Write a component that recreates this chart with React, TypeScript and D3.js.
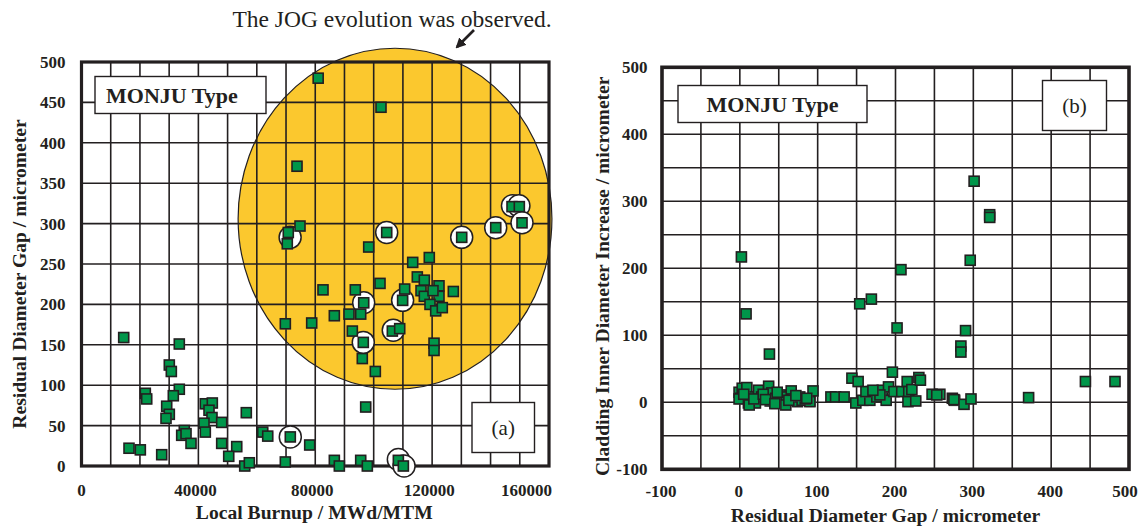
import React from 'react';
import * as d3 from 'd3';

// ---------- Panel (a): residual diameter gap vs. local burnup ----------
const burnupTicks = [0, 40000, 80000, 120000, 160000];
const burnupGrid = d3.range(0, 160001, 10000);
const gapTicksA = [0, 50, 100, 150, 200, 250, 300, 350, 400, 450, 500];

const localBurnup = [
  73760, 70770, 74780, 70430, 104450, 98290, 113350, 119030, 114930, 117330,
  102160, 82650, 93710, 96580, 110600, 109900, 116200, 117330, 122350, 122350,
  120300, 119270, 121220, 123480, 127250, 69760, 78780, 86530, 91550, 95550,
  92690, 106380, 108900, 96440, 120650, 120650, 96100, 100560, 147340, 149840,
  150760, 141760, 130120, 81000, 102500,
  14440, 33470, 30050, 30740, 21840, 22310, 33470, 31420, 29150, 30050,
  28920, 42370, 44770, 43640, 44660, 47980, 41930, 42370, 56400, 35180,
  34290, 35770, 37480, 16260, 20130, 27450, 47980, 53120, 50380, 55860,
  57440, 62020, 63730, 71460, 69760, 78100, 97260, 86530, 88240, 95550,
  97820, 108440, 110150,
];
const residualGap = [
  371, 289, 297, 275, 289, 271, 252, 258, 234, 230,
  226, 218, 218, 202, 219, 205, 217, 210, 223, 210,
  217, 200, 192, 196, 216, 176, 177, 186, 188, 188,
  167, 167, 170, 153, 152, 143, 133, 117, 321, 321,
  301, 295, 283, 480, 444,
  159, 151, 125, 117, 90, 83, 95, 87, 74, 64,
  59, 77, 78, 69, 60, 54, 53, 42, 66, 44,
  38, 40, 28, 22, 20, 14, 28, 24, 12, 0,
  4, 42, 37, 36, 5, 26, 73, 7, 0, 7,
  0, 7, 0,
];
// Specimens where joint-oxide-gap evolution was observed (ringed)
const ringBurnup = [71400, 104450, 96580, 109900, 106700, 96440, 147500, 149700, 150760, 141760, 130120, 71460, 108440, 110400];
const ringGap = [283, 289, 202, 205, 168, 153, 322, 322, 301, 295, 283, 36, 8, 0];

// JOG region outline (data units)
const jogCenterBurnup = 107300;
const jogCenterGap = 306;
const jogHalfWidthBurnup = 53700;
const jogHalfHeightGap = 211;

// ---------- Panel (b): cladding inner diameter increase vs. residual gap ----------
const gapTicksB = [-100, 0, 100, 200, 300, 400, 500];
const gapGridB = d3.range(-100, 501, 50);
const residualGapB = [
  2, 8, 38, 154, 169, 207, 202, 301, 321, 321, 296, 290, 284, 284, 196, 371, 444, 482,
  -1, 3, 9, 1, 12, 15, 20, 24, 28, 37, 41, 39, 46, 52, 55, 60, 66, 68, 74, 77, 80, 90,
  94, 117, 123, 134, -1, 11, 12, 59, 90, 5, 18, 30, 48, 63, 84, 72, 33, 45, 86,
  144, 152, 149, 158, 167, 169, 176, 188, 183, 191, 198, 208, 215, 217, 221, 216, 226,
  230, 232, 247, 257, 273, 276, 288, 297, 180, 162, 171, 253, 275,
];
const diameterIncrease = [
  217, 132, 72, 147, 154, 198, 111, 330, 280, 276, 212, 107, 84, 75, 45, 7, 31, 31,
  15, 21, 22, 6, 8, 1, -1, 18, 8, 24, 14, 2, 6, 11, 1, 8, 17, 5, 1, 8, 3, 2,
  17, 8, 8, 8, 5, -1, -4, -4, 1, 12, 5, 12, 15, 3, 5, 10, 4, -2, 6,
  36, 31, -1, 3, 3, 16, 8, 3, 18, 23, 16, 16, 31, 16, 19, 1, 2,
  37, 33, 12, 12, 6, 3, -3, 5, 11, 16, 18, 11, 4,
];

const W = 1147;
const H = 527;
const INK = '#231f20';
const GREEN = '#00964a';
const GOLD = '#fbc82e';
const SERIF = '"Liberation Serif", "Times New Roman", serif';

const xA = d3.scaleLinear().domain([0, 160000]).range([81.5, 549]);
const yA = d3.scaleLinear().domain([0, 500]).range([466, 62]);
const xB = d3.scaleLinear().domain([-100, 500]).range([662, 1129]);
const yB = d3.scaleLinear().domain([-100, 500]).range([469.3, 67.3]);

const SQ = 10;

function Square({ x, y }: { x: number; y: number }) {
  return (
    <g>
      <rect x={x - SQ / 2 + 0.8} y={y - SQ / 2 + 0.8} width={SQ} height={SQ} fill="#9a9a9a" opacity={0.45} />
      <rect x={x - SQ / 2} y={y - SQ / 2} width={SQ} height={SQ} fill={GREEN} stroke={INK} strokeWidth={1.6} />
    </g>
  );
}

function LabelBox({ x, y, w, h, text, bold, size, anchor }: any) {
  return (
    <g>
      <rect x={x} y={y} width={w} height={h} fill="#fff" stroke={INK} strokeWidth={1.4} />
      <text
        x={anchor === 'middle' ? x + w / 2 : x + 11}
        y={y + h / 2}
        dy="0.35em"
        textAnchor={anchor}
        fontFamily={SERIF}
        fontWeight={bold ? 'bold' : 'normal'}
        fontSize={size}
        fill={INK}
      >
        {text}
      </text>
    </g>
  );
}

export default function App() {
  const [a0, a1] = xA.range();
  const [b0, b1] = xB.range();
  const topA = yA(500), botA = yA(0);
  const topB = yB(500), botB = yB(-100);

  const ex = xA(jogCenterBurnup);
  const ey = yA(jogCenterGap);
  const erx = xA(jogHalfWidthBurnup) - xA(0);
  const ery = yA(0) - yA(jogHalfHeightGap);

  return (
    <div style={{ position: 'absolute', left: 0, top: 0 }}>
      <svg width={W} height={H} style={{ display: 'block', background: '#fff' }}>
        {/* ===== Panel (a) ===== */}
        <rect x={a0} y={topA} width={a1 - a0} height={botA - topA} fill="#fff" />
        <ellipse cx={ex} cy={ey} rx={erx} ry={ery} fill={GOLD} stroke={INK} strokeWidth={1.2} />
        {burnupGrid.map((v) => (
          <line key={'ga' + v} x1={xA(v)} x2={xA(v)} y1={topA} y2={botA} stroke={INK} strokeWidth={1.6} />
        ))}
        {gapTicksA.map((v) => (
          <line key={'ha' + v} x1={a0} x2={a1} y1={yA(v)} y2={yA(v)} stroke={INK} strokeWidth={1.6} />
        ))}
        <rect x={a0} y={topA} width={a1 - a0} height={botA - topA} fill="none" stroke={INK} strokeWidth={3.2} />

        {gapTicksA.map((v) => (
          <text key={'ya' + v} x={a0 - 16} y={yA(v)} dy="0.35em" textAnchor="end" fontFamily={SERIF} fontWeight="bold" fontSize={17} fill={INK}>
            {v}
          </text>
        ))}
        {burnupTicks.map((v, i) => (
          <text
            key={'xa' + v}
            x={i === burnupTicks.length - 1 ? xA(v) + 3 : xA(v) - (i === 0 ? 0 : 3)}
            y={496}
            textAnchor={i === burnupTicks.length - 1 ? 'end' : 'middle'}
            fontFamily={SERIF}
            fontWeight="bold"
            fontSize={17}
            fill={INK}
          >
            {v}
          </text>
        ))}
        <text x={(a0 + a1) / 2 - 1} y={519} textAnchor="middle" fontFamily={SERIF} fontWeight="bold" fontSize={19.6} fill={INK}>
          Local Burnup / MWd/MTM
        </text>
        <text
          transform={`translate(26, ${(topA + botA) / 2 + 10}) rotate(-90)`}
          textAnchor="middle"
          fontFamily={SERIF}
          fontWeight="bold"
          fontSize={19.6}
          fill={INK}
        >
          Residual Diameter Gap / micrometer
        </text>

        <LabelBox x={95} y={76.5} w={171} h={37} text="MONJU Type" bold size={22} anchor="start" />
        <LabelBox x={472} y={402.5} w={62.5} h={50} text="(a)" size={21} anchor="middle" />

        {ringBurnup.map((v, i) => (
          <circle key={'r' + i} cx={xA(v)} cy={yA(ringGap[i])} r={11} fill="#fff" stroke={INK} strokeWidth={1.5} />
        ))}
        {localBurnup.map((v, i) => (
          <Square key={'pa' + i} x={xA(v)} y={yA(residualGap[i])} />
        ))}

        {/* annotation */}
        <text x={392} y={27} textAnchor="middle" fontFamily={SERIF} fontSize={23.5} fill={INK}>
          The JOG evolution was observed.
        </text>
        <defs>
          <marker id="ahead" viewBox="0 0 10 10" refX="8" refY="5" markerWidth="4" markerHeight="4" orient="auto">
            <path d="M0,0 L10,5 L0,10 z" fill={INK} />
          </marker>
        </defs>
        <line x1={474} y1={30} x2={457} y2={47} stroke={INK} strokeWidth={2.6} markerEnd="url(#ahead)" />

        {/* ===== Panel (b) ===== */}
        <rect x={b0} y={topB} width={b1 - b0} height={botB - topB} fill="#fff" />
        {gapGridB.map((v) => (
          <line key={'gb' + v} x1={xB(v)} x2={xB(v)} y1={topB} y2={botB} stroke={INK} strokeWidth={1.6} />
        ))}
        {gapGridB.map((v) => (
          <line key={'hb' + v} x1={b0} x2={b1} y1={yB(v)} y2={yB(v)} stroke={INK} strokeWidth={1.6} />
        ))}
        <rect x={b0} y={topB} width={b1 - b0} height={botB - topB} fill="none" stroke={INK} strokeWidth={3.6} />

        {gapTicksB.map((v) => (
          <text key={'yb' + v} x={b0 - 14.5} y={yB(v)} dy="0.35em" textAnchor="end" fontFamily={SERIF} fontWeight="bold" fontSize={17} fill={INK}>
            {v}
          </text>
        ))}
        {gapTicksB.map((v, i) => (
          <text
            key={'xb' + v}
            x={i === gapTicksB.length - 1 ? xB(v) - 4 : xB(v) - 1}
            y={497}
            textAnchor="middle"
            fontFamily={SERIF}
            fontWeight="bold"
            fontSize={17}
            fill={INK}
          >
            {v}
          </text>
        ))}
        <text x={885.5} y={522} textAnchor="middle" fontFamily={SERIF} fontWeight="bold" fontSize={19.6} fill={INK}>
          Residual Diameter Gap / micrometer
        </text>
        <text
          transform={`translate(609, ${(topB + botB) / 2 + 8}) rotate(-90)`}
          textAnchor="middle"
          fontFamily={SERIF}
          fontWeight="bold"
          fontSize={19.6}
          fill={INK}
        >
          Cladding Inner Diameter Increase / micrometer
        </text>

        <LabelBox x={678} y={85.5} w={189} h={37} text="MONJU Type" bold size={22} anchor="middle" />
        <LabelBox x={1042.5} y={80.5} w={64} h={50} text="(b)" size={21} anchor="middle" />

        {residualGapB.map((v, i) => (
          <Square key={'pb' + i} x={xB(v)} y={yB(diameterIncrease[i])} />
        ))}
      </svg>
    </div>
  );
}
